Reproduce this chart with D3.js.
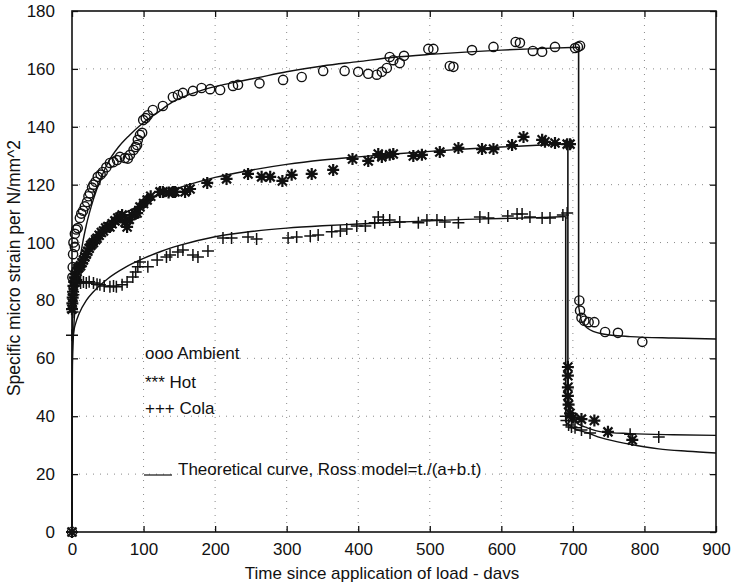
<!DOCTYPE html>
<meta charset="utf-8">
<head>
  <title>Creep strain</title>
</head>
<style>
  body { margin: 0; background: #fff; }
  text { font-family: "Liberation Sans", Arial, sans-serif; fill: #111; }
</style>

<script src="https://d3js.org/d3.v7.min.js"></script>

<div id="my_dataviz"></div>

<script>

// ---- data: [days, micro strain per N/mm^2] ----
var ambientPts = [[0,0],[0.5,88],[1,91.5],[1.5,96],[2,100],[4,98.5],[4,103],[6,104.5],[8,105],[11,108.5],[13,110],
  [15.5,111],[18,112.5],[21,114],[23,116],[25,117],[28,119],[30,120],[33,121],[36,122.7],[40,123.5],[43,124.4],
  [48,126],[53,127.5],[58,127.8],[63,128.5],[67,129.6],[74,129.2],[78,129],[81,130.3],[86,132],[89,133],[91,133.7],
  [92,135.5],[95,137.2],[98,137.9],[99.5,142.3],[103,143],[106,144],[113,145.8],[127,147.2],[141,150.3],[148,151],
  [155,151.7],[169,152.4],[181,153.4],[193,153],[207,152.7],[225,154.1],[232,154.5],[262,155],[295,156.2],[321,157.2],
  [351,159.3],[381,159.3],[400,159],[414,158.3],[426,158],[433,159],[440,160.3],[444,164.1],[449,163],[458,162],
  [464,164.5],[498,166.9],[505,166.9],[528,161],[533,160.7],[559,166.5],[589,167.6],[620,169.3],[626,169],[644,166.2],
  [657,165.9],[675,167.6],[703,167.2],[707,167.6],[710,168],[709,80],[710,76.5],[712,74],[716,73],[722,72.5],
  [730,72.5],[745,69.1],[763,68.8],[797,65.7]];

var hotPts = [[0,0],[0,77],[0.5,79],[1,81],[1.5,83],[2,85],[3,86.5],[4,88],[5,89],[6,87],[7,90],[8,91],[10,91.5],
  [12,92],[14,93],[16,94],[18,95],[20,96],[22,97],[24,98],[26,99],[28,99.5],[30,100],[33,101],[35,101.5],[38,102.5],
  [41,103.5],[44,104],[47,105],[50,105.5],[53,105.4],[56,106.5],[60,107.5],[64,108.5],[67,108.8],[70,109.5],[74,107],
  [77,105.4],[80,108],[84,109.5],[88,110],[91,110.2],[95,112.3],[100,113.5],[105,114.7],[110,116],[123,117.5],
  [127,117.5],[135,117.3],[141,117.5],[144,117.5],[158,117.5],[165,118.5],[189,120.6],[216,122],[246,123.7],
  [265,122.7],[277,122.7],[294,121.3],[307,123.4],[335,123.7],[365,125.1],[392,128.9],[414,128.2],[428,130.6],
  [433,129.6],[444,130.3],[449,130.6],[477,129.9],[489,130.3],[514,131.3],[540,132.7],[573,132.3],[589,132.3],
  [615,133.7],[631,136.5],[657,135.5],[661,134.8],[675,134.4],[692,134],[696,134],[693,57],[693,54],[693,50],
  [693,47],[694,44],[696,41],[700,39.5],[712,39],[730,38.5],[749,34.6],[783,31.8]];

var coldPts = [[0,0],[0,68],[1,76],[2,82],[3,85],[4.5,87],[8,86.5],[12,86],[16,86.4],[20,86],[24,86.5],[30,86],
  [35,85.6],[39,85.4],[45,85],[53,84.7],[58,85],[62,84.7],[70,85.4],[77,86.4],[85,88.1],[89,89.8],[92,91.6],
  [95,93.3],[106,91.6],[119,94],[132,95],[137,95.7],[148,96.7],[155,97.4],[169,95.7],[176,95],[190,97.1],
  [211,101.6],[223,101.6],[246,101.9],[258,101.2],[302,101.6],[314,101.9],[333,102.3],[344,102.6],[363,103.7],
  [375,104],[384,104.7],[398,105.7],[410,105.7],[423,106.8],[428,108.8],[435,107.8],[444,107.8],[458,107.1],
  [484,106.8],[496,107.8],[510,107.8],[521,107.1],[540,106.8],[570,108.8],[582,108.5],[609,109.2],[622,109.9],
  [629,109.9],[640,108.8],[657,108.5],[668,108.5],[686,109.5],[692,110.2],[690,40],[691,38.5],[694,37],[698,36.3],
  [703,36],[712,35.2],[724,34.2],[780,33.8],[820,32.8]];

// theoretical (Ross model) curves, loading part and unloading part
var ambientCurveLoad = [[0,0],[0.5,55],[1,62],[2,68],[4,77],[7,85],[10,92],[15,100],[20,106],[30,115],[40,122],
  [50,127.5],[65,133],[80,137],[100,141.5],[120,145],[140,148.5],[180,152.5],[220,155],[260,157],[300,159],
  [350,161],[400,162.5],[450,164],[500,165],[550,165.8],[600,166.5],[650,167],[708,167.5]];
var ambientCurveUnload = [[708,78],[712,73],[720,70.5],[740,68.5],[780,67.5],[840,67],[900,66.7]];

var hotCurveLoad = [[0,0],[0.5,70],[1,75],[3,81],[5,85],[10,90],[15,93.5],[20,96],[30,100],[40,103],[50,105.5],
  [70,109.5],[100,113.5],[125,117],[150,119],[200,122.5],[250,125],[300,127],[350,128.5],[400,129.6],[450,130.6],
  [500,131.5],[550,132.3],[600,133],[650,133.6],[693,134]];
var hotCurveUnload = [[693,44],[700,39],[710,37],[720,36],[740,34.6],[780,34],[840,33.6],[900,33.4]];

var coldCurveLoad = [[0,0],[0.5,60],[1,66],[3,70],[5,72],[10,75.5],[20,80],[30,83],[50,87.5],[75,91.5],[100,94.5],
  [125,97],[150,99],[200,102],[250,103.8],[300,105],[350,105.8],[400,106.4],[450,107],[500,107.5],[550,108],
  [600,108.3],[650,108.6],[690,109]];
var coldCurveUnload = [[690,38],[700,36],[720,34.3],[740,32.5],[780,30.3],[820,28.7],[860,27.9],[900,27.3]];

var xTicks = [0,100,200,300,400,500,600,700,800,900];
var yTicks = [0,20,40,60,80,100,120,140,160,180];

// set the dimensions and margins of the graph
var margin = {top: 11, right: 23, bottom: 51, left: 72},
    width = 739 - margin.left - margin.right,
    height = 583 - margin.top - margin.bottom;

var root = d3.select("#my_dataviz")
  .append("svg")
    .attr("width", 739)
    .attr("height", 583);

root.append("rect").attr("width", 739).attr("height", 583).attr("fill", "#fff");

var svg = root.append("g")
    .attr("transform", "translate(" + margin.left + "," + margin.top + ")");

var x = d3.scaleLinear().domain([0, 900]).range([0, width]);
var y = d3.scaleLinear().domain([0, 180]).range([height, 0]);

// dotted grid
svg.selectAll(".gx").data(xTicks.slice(1, -1)).enter().append("line")
  .attr("x1", function(d) { return x(d); }).attr("x2", function(d) { return x(d); })
  .attr("y1", 0).attr("y2", height)
  .attr("stroke", "#8a8a8a").attr("stroke-width", 1).attr("stroke-dasharray", "1,6");
svg.selectAll(".gy").data(yTicks.slice(1, -1)).enter().append("line")
  .attr("y1", function(d) { return y(d); }).attr("y2", function(d) { return y(d); })
  .attr("x1", 0).attr("x2", width)
  .attr("stroke", "#8a8a8a").attr("stroke-width", 1).attr("stroke-dasharray", "1,6");

// axes, ticks pointing inward on all four sides
function styleAxis(g) {
  g.select(".domain").remove();
  g.selectAll(".tick line").attr("stroke", "#111").attr("stroke-width", 1.3);
  g.selectAll(".tick text").attr("font-size", 17).attr("font-family", "Liberation Sans, Arial, sans-serif").attr("fill", "#111");
}
svg.append("g").attr("transform", "translate(0," + height + ")")
  .call(d3.axisBottom(x).tickValues(xTicks).tickSize(-6).tickSizeOuter(0).tickPadding(11))
  .call(styleAxis);
svg.append("g")
  .call(d3.axisTop(x).tickValues(xTicks).tickSize(-6).tickSizeOuter(0).tickFormat(""))
  .call(styleAxis);
svg.append("g")
  .call(d3.axisLeft(y).tickValues(yTicks).tickSize(-6).tickSizeOuter(0).tickPadding(17))
  .call(styleAxis);
svg.append("g").attr("transform", "translate(" + width + ",0)")
  .call(d3.axisRight(y).tickValues(yTicks).tickSize(-6).tickSizeOuter(0).tickFormat(""))
  .call(styleAxis);

// frame
svg.append("rect")
  .attr("width", width).attr("height", height)
  .attr("fill", "none").attr("stroke", "#111").attr("stroke-width", 1.6);

// theoretical curves
var smooth = d3.line()
  .x(function(d) { return x(d[0]); })
  .y(function(d) { return y(d[1]); })
  .curve(d3.curveMonotoneX);
var straight = d3.line()
  .x(function(d) { return x(d[0]); })
  .y(function(d) { return y(d[1]); });

[[ambientCurveLoad, ambientCurveUnload], [hotCurveLoad, hotCurveUnload], [coldCurveLoad, coldCurveUnload]]
  .forEach(function(c) {
    [c[0], c[1]].forEach(function(seg) {
      svg.append("path").datum(seg)
        .attr("fill", "none").attr("stroke", "#111").attr("stroke-width", 1.4)
        .attr("d", smooth);
    });
    // the drop on unloading
    svg.append("path").datum([c[0][c[0].length - 1], c[1][0]])
      .attr("fill", "none").attr("stroke", "#111").attr("stroke-width", 1.6)
      .attr("d", straight);
  });

// markers
svg.selectAll(".amb").data(ambientPts).enter().append("circle")
  .attr("cx", function(d) { return x(d[0]); })
  .attr("cy", function(d) { return y(d[1]); })
  .attr("r", 4.6)
  .attr("fill", "none").attr("stroke", "#111").attr("stroke-width", 1.4);

svg.selectAll(".hot").data(hotPts).enter().append("path")
  .attr("transform", function(d) { return "translate(" + x(d[0]) + "," + y(d[1]) + ")"; })
  .attr("d", "M-6,0H6M0,-6V6M-4.5,-4.5L4.5,4.5M-4.5,4.5L4.5,-4.5")
  .attr("fill", "none").attr("stroke", "#111").attr("stroke-width", 2.2);

svg.selectAll(".cold").data(coldPts).enter().append("path")
  .attr("transform", function(d) { return "translate(" + x(d[0]) + "," + y(d[1]) + ")"; })
  .attr("d", "M-6,0H6M0,-6V6")
  .attr("fill", "none").attr("stroke", "#111").attr("stroke-width", 1.5);

// legend (plain text, as in the original)
var legend = svg.append("g").attr("font-size", 17);
legend.append("text").attr("x", 73).attr("y", 348).text("ooo Ambient");
legend.append("text").attr("x", 73).attr("y", 377).text("*** Hot");
legend.append("text").attr("x", 73).attr("y", 403).text("+++ Cola");
legend.append("line").attr("x1", 72).attr("x2", 100).attr("y1", 464).attr("y2", 464)
  .attr("stroke", "#111").attr("stroke-width", 1.2);
legend.append("text").attr("x", 106).attr("y", 464).text("Theoretical curve, Ross model=t./(a+b.t)");

// axis labels
root.append("text")
  .attr("x", 382).attr("y", 579)
  .style("text-anchor", "middle").attr("font-size", 17)
  .text("Time since application of load - davs");

root.append("text")
  .attr("transform", "translate(20,268) rotate(-90)")
  .style("text-anchor", "middle").attr("font-size", 17.5)
  .text("Specific micro strain per N/mm^2");

</script>
